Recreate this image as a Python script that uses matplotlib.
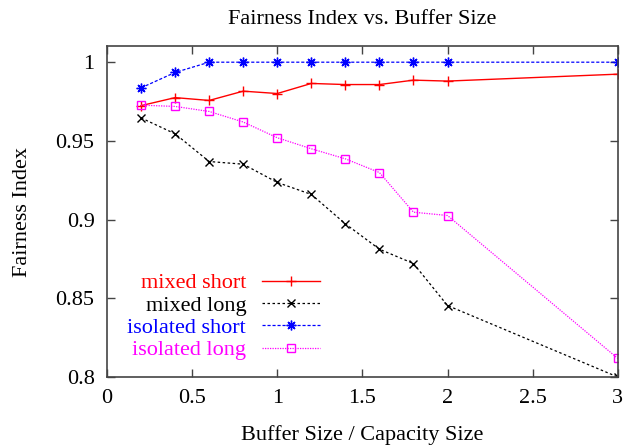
import matplotlib
matplotlib.use("Agg")
import matplotlib.pyplot as plt

plt.rcParams['font.family'] = ['Liberation Serif', 'DejaVu Serif']

buffer_size = [0.2, 0.4, 0.6, 0.8, 1.0, 1.2, 1.4, 1.6, 1.8, 2.0, 3.0]
mixed_short = [0.9724, 0.9775, 0.9757, 0.9816, 0.9801, 0.9865, 0.9858, 0.9858, 0.9886, 0.9880, 0.9924]
mixed_long = [0.9646, 0.9545, 0.9369, 0.9352, 0.9236, 0.9160, 0.8973, 0.8812, 0.8721, 0.8454, 0.8000]
isolated_short = [0.9837, 0.9935, 1.0, 1.0, 1.0, 1.0, 1.0, 1.0, 1.0, 1.0, 1.0]
isolated_long = [0.9727, 0.9719, 0.9687, 0.9620, 0.9520, 0.9450, 0.9386, 0.9299, 0.9047, 0.9026, 0.8118]

x_ticks = [0, 0.5, 1, 1.5, 2, 2.5, 3]
x_labels = ["0", "0.5", "1", "1.5", "2", "2.5", "3"]
y_ticks = [0.8, 0.85, 0.9, 0.95, 1.0]
y_labels = ["0.8", "0.85", "0.9", "0.95", "1"]

fig = plt.figure(figsize=(6.24, 4.48), dpi=100)
ax = fig.add_axes([0.1715, 0.1585, 0.8185, 0.7385])

ax.plot(buffer_size, mixed_short, color="red", lw=1.0, ls="-",
	marker="+", ms=7, mew=1.0, label="mixed short")
ax.plot(buffer_size, mixed_long, color="black", lw=0.9, ls=(0, (2, 2)),
	marker="x", ms=6, mew=1.0, label="mixed long")
ax.plot(buffer_size, isolated_short, color="blue", lw=0.9, ls=(0, (2.5, 1.5)),
	marker=(8, 2, 0), ms=7, mew=1.0, label="isolated short")
ax.plot(buffer_size, isolated_long, color="magenta", lw=0.9, ls=(0, (1, 1)),
	marker="s", ms=6, mew=1.0, mfc="none", label="isolated long")

ax.set_xlim(0, 3)
ax.set_ylim(0.8, 1.0102)
ax.set_xticks(x_ticks)
ax.set_xticklabels(x_labels)
ax.set_yticks(y_ticks)
ax.set_yticklabels(y_labels)
ax.tick_params(direction="in", top=True, right=True, length=6, width=1,
	labelsize=16, color="#444444", pad=9)
for s in ax.spines.values():
	s.set_color("#444444")
	s.set_linewidth(1.2)

ax.set_title("Fairness Index vs. Buffer Size", fontsize=16, pad=16)
ax.set_xlabel("Buffer Size / Capacity Size", fontsize=16, labelpad=12)
ax.set_ylabel("Fairness Index", fontsize=16, labelpad=17)

# text on the left of the sample, right aligned (gnuplot style key)
leg = ax.legend(loc="lower left", bbox_to_anchor=(0.04, 0.05), markerfirst=False,
	frameon=False, fontsize=16, handlelength=2.6, handletextpad=0.7,
	labelspacing=0.08, borderaxespad=0.0, borderpad=0.0)
colors = ["red", "black", "blue", "magenta"]
for t, c in zip(leg.get_texts(), colors):
	t.set_color(c)

fig.savefig("out.png", dpi=100)
